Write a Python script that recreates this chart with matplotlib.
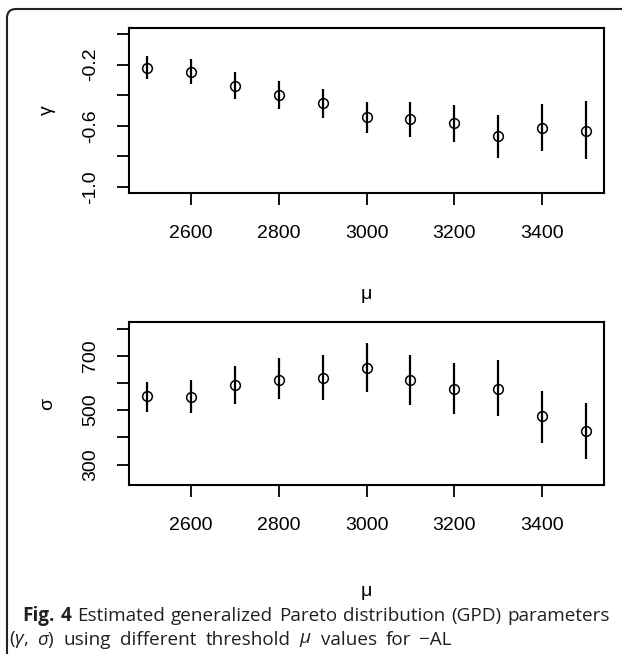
import matplotlib
matplotlib.use("Agg")
import matplotlib.pyplot as plt
from matplotlib.path import Path
from matplotlib.patches import PathPatch

# threshold values and GPD estimates
mu = [2500, 2600, 2700, 2800, 2900, 3000, 3100, 3200, 3300, 3400, 3500]

gamma = [-0.223, -0.249, -0.337, -0.398, -0.450, -0.544, -0.553, -0.581, -0.669, -0.616, -0.634]
gamma_lo = [-0.295, -0.328, -0.426, -0.487, -0.549, -0.647, -0.671, -0.708, -0.811, -0.767, -0.820]
gamma_hi = [-0.142, -0.162, -0.247, -0.306, -0.358, -0.446, -0.446, -0.466, -0.527, -0.459, -0.437]

sigma = [551, 550, 593, 612, 617, 656, 612, 578, 578, 478, 425]
sigma_lo = [495, 490, 524, 540, 539, 566, 519, 485, 477, 380, 322]
sigma_hi = [604, 610, 662, 691, 701, 746, 701, 673, 686, 572, 526]

xticks = [2600, 2800, 3000, 3200, 3400]
gamma_ticks = [0.0, -0.2, -0.4, -0.6, -0.8, -1.0]
gamma_labels = ["", "-0.2", "", "-0.6", "", "-1.0"]
sigma_ticks = [800, 700, 600, 500, 400, 300]
sigma_labels = ["", "700", "", "500", "", "300"]

caption1 = ["Fig.", "4", "Estimated", "generalized", "Pareto", "distribution", "(GPD)", "parameters"]
caption2 = [r"($\gamma$,", r"$\sigma$)", "using", "different", "threshold", r"$\mu$",
            "values", "for", "\u2212AL"]

plt.rcParams["font.family"] = ["Liberation Sans", "DejaVu Sans"]
plt.rcParams["mathtext.fontset"] = "custom"
plt.rcParams["mathtext.rm"] = "Open Sans"
plt.rcParams["mathtext.it"] = "Open Sans:italic"
plt.rcParams["mathtext.bf"] = "Open Sans:bold"

W, H = 625, 654
fig = plt.figure(figsize=(W / 100, H / 100), dpi=100)


def box(x0, y0, x1, y1):
    return [x0 / W, 1 - y1 / H, (x1 - x0) / W, (y1 - y0) / H]


ax1 = fig.add_axes(box(129, 28, 604, 193))
ax2 = fig.add_axes(box(129, 322, 604, 485))


def panel(ax, y, lo, hi, ylim, yt, ylab, name, xpad):
    ax.vlines(mu, lo, hi, color="black", lw=1.6)
    ax.plot(mu, y, "o", mfc="none", mec="black", ms=7, mew=1.1, ls="none")
    ax.set_xlim(2460, 3540)
    ax.set_ylim(*ylim)
    ax.set_xticks(xticks)
    ax.set_xticklabels([str(t) for t in xticks])
    ax.set_yticks(yt)
    ax.set_yticklabels(ylab, rotation=90, va="center")
    ax.tick_params(length=8.5, width=1.3, labelsize=14, pad=13)
    ax.tick_params(axis="x", pad=14.5)
    for s in ax.spines.values():
        s.set_linewidth(1.5)
    ax.set_xlabel("\u03bc", fontsize=14, labelpad=xpad)
    ax.set_ylabel(name, fontsize=14, labelpad=19)


panel(ax1, gamma, gamma_lo, gamma_hi, (-1.04, 0.04), gamma_ticks, gamma_labels, "\u03b3", 32)
panel(ax2, sigma, sigma_lo, sigma_hi, (225, 824), sigma_ticks, sigma_labels, "\u03c3", 35)

# frame around the figure panel
pts = [(7, H), (7, 18), (7, 9), (16, 9), (622, 9)]
codes = [Path.MOVETO, Path.LINETO, Path.CURVE3, Path.CURVE3, Path.LINETO]
frame = Path([(x / W, 1 - yy / H) for x, yy in pts], codes)
fig.add_artist(PathPatch(frame, fill=False, lw=1.5, ec="#222222", transform=fig.transFigure))

# caption, words spread out like the justified journal text
cap = "#231f20"
renderer = fig.canvas.get_renderer()


def spread(words, x0, x1, ypix, bold=0):
    texts = []
    for i, w in enumerate(words):
        t = fig.text(0, 1 - ypix / H, w, fontsize=13.6, color=cap, va="center",
                     family="Open Sans", weight="bold" if i < bold else "normal")
        texts.append(t)
    widths = [t.get_window_extent(renderer).width for t in texts]
    gap = (x1 - x0 - sum(widths)) / (len(words) - 1)
    x = x0
    for t, w in zip(texts, widths):
        t.set_x(x / W)
        x += w + gap


spread(caption1, 22, 610, 616, bold=2)
spread(caption2, 9, 452, 640)

fig.savefig("out.png", dpi=100)
